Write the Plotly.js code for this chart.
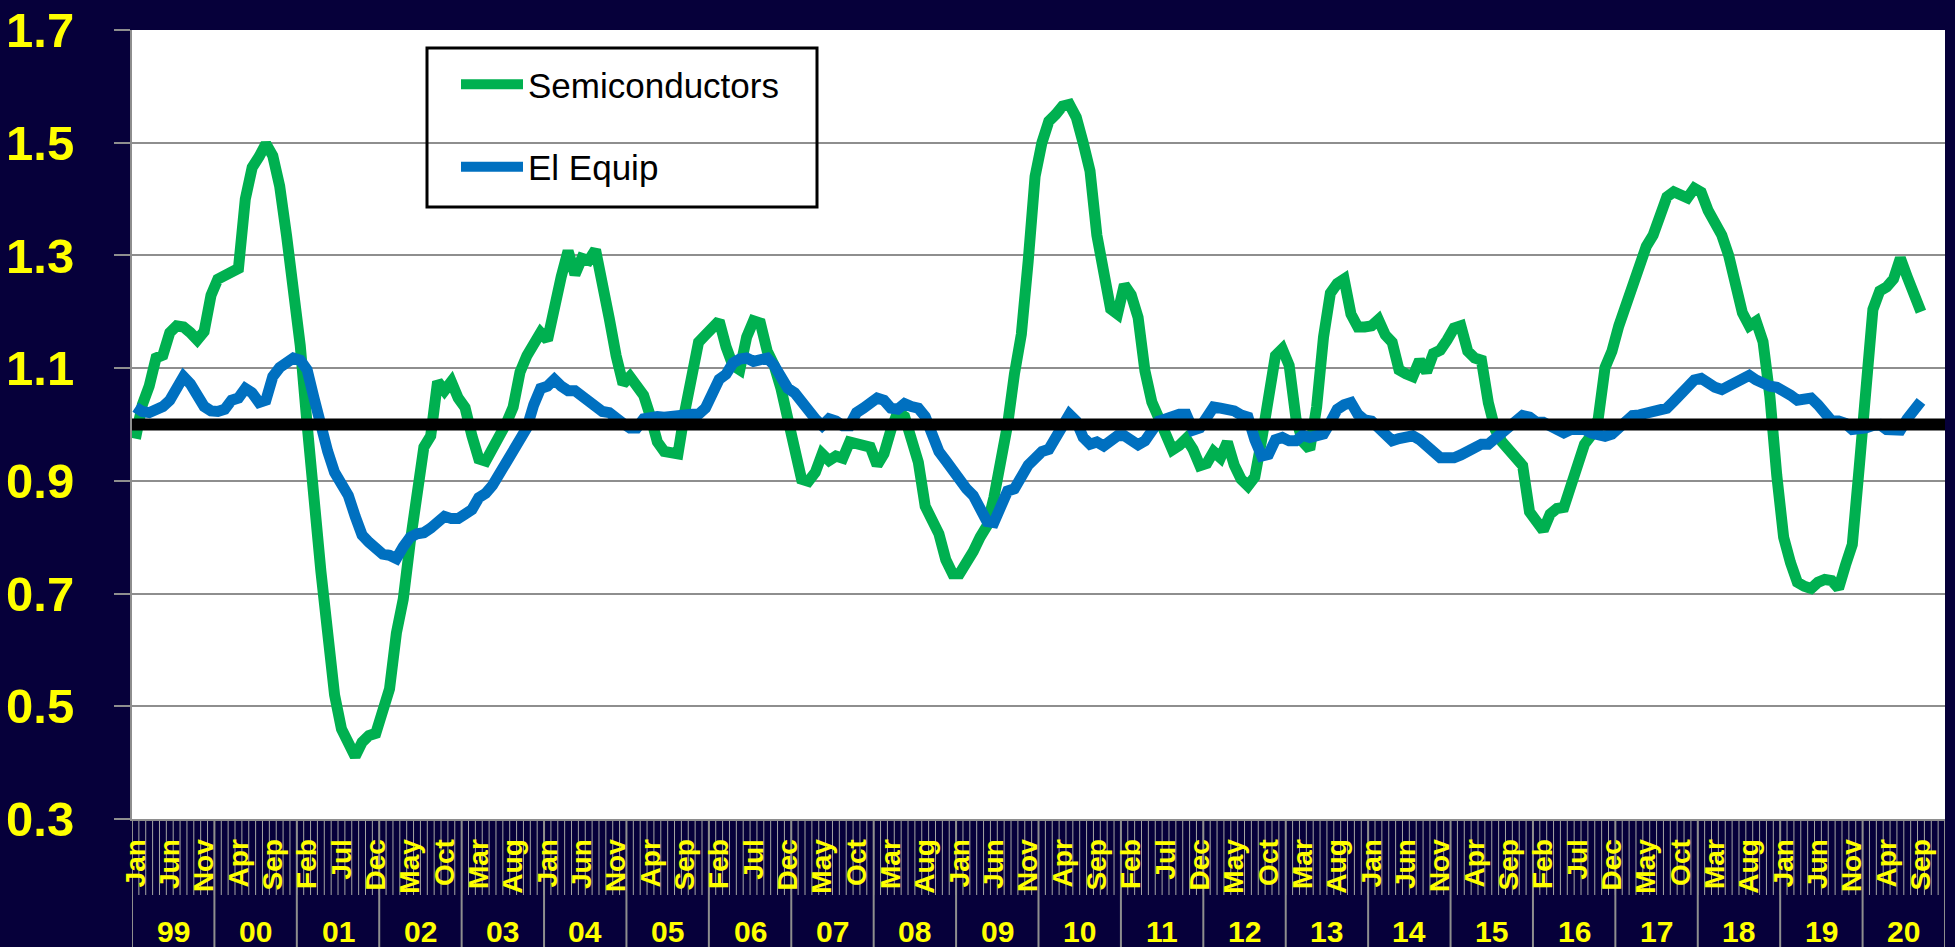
<!DOCTYPE html>
<html>
<head>
<meta charset="utf-8">
<script src="https://cdn.plot.ly/plotly-3.0.1.min.js"></script>
<style>
html,body{margin:0;padding:0;background:#06003A;}
#chart{width:1955px;height:947px;}
</style>
</head>
<body>
<div id="chart"></div>
<script>
// ---- data (monthly, Jan 1999 .. Sep 2020) ----
const monthNames = ['Jan','Feb','Mar','Apr','May','Jun','Jul','Aug','Sep','Oct','Nov','Dec'];
const yearLabels = ['99','00','01','02','03','04','05','06','07','08','09','10','11','12','13','14','15','16','17','18','19','20'];
const yTickValues = [0.3,0.5,0.7,0.9,1.1,1.3,1.5,1.7];
const baselineValue = 1.0;

const semiconductors = [
  // 1999-2002
  0.975,1.035,1.068,1.118,1.123,1.163,1.175,1.173,1.163,1.150,1.165,1.229,
  1.258,1.264,1.270,1.277,1.400,1.456,1.475,1.498,1.477,1.423,1.336,1.237,
  1.140,1.000,0.840,0.740,0.630,0.520,0.460,0.431,0.411,0.436,0.448,0.452,
  0.485,0.531,0.630,0.690,0.790,0.882,0.960,0.980,1.076,1.060,1.076,1.047,
  // 2003-2006
  1.030,0.980,0.939,0.935,0.955,0.980,1.002,1.031,1.093,1.122,1.146,1.163,
  1.150,1.213,1.262,1.308,1.266,1.295,1.291,1.310,1.237,1.188,1.122,1.072,
  1.085,1.068,1.052,1.014,0.969,0.952,0.948,0.948,1.023,1.089,1.146,1.159,
  1.171,1.184,1.138,1.105,1.097,1.155,1.184,1.180,1.130,1.105,1.064,1.014,
  // 2007-2010
  0.955,0.903,0.899,0.915,0.948,0.936,0.944,0.940,0.969,0.966,0.965,0.960,
  0.928,0.948,0.990,1.022,1.014,0.975,0.933,0.855,0.832,0.806,0.760,0.735,
  0.735,0.752,0.775,0.800,0.820,0.870,0.930,1.000,1.090,1.160,1.290,1.440,
  1.500,1.538,1.550,1.565,1.568,1.545,1.500,1.450,1.336,1.262,1.205,1.196,
  // 2011-2014
  1.248,1.230,1.190,1.095,1.040,1.012,0.978,0.955,0.963,0.975,0.956,0.927,
  0.931,0.952,0.941,0.969,0.928,0.903,0.891,0.907,0.973,1.047,1.122,1.134,
  1.105,1.010,0.969,0.956,1.031,1.155,1.233,1.250,1.258,1.196,1.173,1.173,
  1.175,1.186,1.159,1.146,1.097,1.090,1.085,1.114,1.093,1.126,1.132,1.150,
  // 2015-2018
  1.171,1.175,1.130,1.118,1.114,1.039,0.991,0.969,0.955,0.940,0.927,0.845,
  0.828,0.812,0.841,0.851,0.853,0.894,0.927,0.965,0.981,1.010,1.101,1.130,
  1.175,1.212,1.250,1.291,1.316,1.336,1.378,1.404,1.413,1.409,1.402,1.419,
  1.412,1.380,1.358,1.336,1.300,1.248,1.198,1.175,1.183,1.147,1.050,0.910,
  // 2019-2020 (to Sep)
  0.800,0.755,0.720,0.713,0.709,0.720,0.725,0.723,0.709,0.750,0.787,0.923,
  1.072,1.204,1.237,1.244,1.258,1.295,1.262,1.229,1.200
];

const elEquip = [
  // 1999-2002
  1.031,1.023,1.021,1.024,1.032,1.043,1.068,1.085,1.072,1.051,1.032,1.024,
  1.023,1.027,1.043,1.047,1.064,1.056,1.039,1.043,1.085,1.101,1.112,1.118,
  1.114,1.097,1.047,0.994,0.952,0.915,0.894,0.874,0.837,0.804,0.791,0.781,
  0.770,0.768,0.762,0.783,0.800,0.806,0.808,0.816,0.826,0.837,0.833,0.833,
  // 2003-2006
  0.841,0.849,0.870,0.878,0.892,0.911,0.932,0.952,0.969,0.994,1.035,1.064,
  1.068,1.080,1.068,1.060,1.060,1.052,1.039,1.035,1.023,1.021,1.014,1.002,
  0.994,0.994,1.010,1.014,1.014,1.013,1.013,1.014,1.017,1.018,1.018,1.029,
  1.060,1.080,1.089,1.109,1.116,1.118,1.112,1.114,1.118,1.105,1.085,1.064,
  // 2007-2010
  1.056,1.039,1.024,1.010,0.998,1.010,1.006,0.998,0.998,1.021,1.029,1.041,
  1.047,1.043,1.029,1.027,1.037,1.032,1.029,1.014,0.977,0.952,0.936,0.917,
  0.900,0.886,0.874,0.849,0.828,0.826,0.857,0.882,0.886,0.911,0.928,0.940,
  0.952,0.956,0.977,1.006,1.018,1.006,0.977,0.965,0.969,0.962,0.969,0.980,
  // 2011-2014
  0.980,0.973,0.964,0.971,0.990,1.006,1.010,1.016,1.018,1.018,0.990,0.994,
  1.014,1.031,1.029,1.027,1.024,1.017,1.013,0.973,0.944,0.947,0.973,0.977,
  0.971,0.971,0.981,0.977,0.979,0.983,1.004,1.027,1.035,1.039,1.018,1.008,
  1.006,0.994,0.977,0.971,0.975,0.979,0.980,0.973,0.960,0.948,0.941,0.941,
  // 2015-2018
  0.941,0.946,0.952,0.960,0.965,0.965,0.975,0.988,0.996,1.008,1.016,1.013,
  1.004,1.004,0.996,0.988,0.985,0.991,0.991,0.991,0.985,0.980,0.979,0.983,
  0.994,1.008,1.016,1.017,1.019,1.021,1.024,1.029,1.041,1.052,1.068,1.079,
  1.082,1.071,1.066,1.062,1.068,1.076,1.085,1.087,1.079,1.072,1.068,1.066,
  // 2019-2020 (to Sep)
  1.056,1.052,1.043,1.046,1.047,1.035,1.018,1.006,1.006,1.002,0.991,0.991,
  0.994,0.998,1.000,0.991,0.988,0.990,1.010,1.027,1.041
];

// ---- derived helpers ----
const nSlots = yearLabels.length * 12;
const xSemi = semiconductors.map((_, i) => i);
const xEl = elEquip.map((_, i) => i);
const monthTickVals = [], monthTickText = [];
for (let i = 0; i < nSlots; i += 5) { monthTickVals.push(i); monthTickText.push(monthNames[i % 12]); }

const BG = '#06003A';
const YELLOW = '#FFFF00';
const GRID = '#8e8e8e';
const FONT = 'Liberation Sans, Arial, sans-serif';

const plotTop = 30, plotBottom = 819, figH = 947;
const plotH = plotBottom - plotTop;
const plotL = 132, plotR = 1945, plotW = plotR - plotL;
const px2paperY = py => (plotBottom - py) / plotH;
const px2paperX = px => (px - plotL) / plotW;

const shapes = [];
// month separators in the category band
for (let i = 0; i <= nSlots; i++) {
  shapes.push({type:'line', xref:'x', yref:'paper', x0:i-0.5, x1:i-0.5,
    y0:0, y1:px2paperY(895), line:{color:'#a4a4a4', width:1}, layer:'below'});
}
// year separators in the category band
for (let k = 0; k <= yearLabels.length; k++) {
  shapes.push({type:'line', xref:'x', yref:'paper', x0:12*k-0.5, x1:12*k-0.5,
    y0:0, y1:px2paperY(figH), line:{color:GRID, width:2}, layer:'below'});
}
// baseline at 1.0
shapes.push({type:'line', xref:'paper', yref:'y', x0:0, x1:1, y0:baselineValue, y1:baselineValue,
  line:{color:'#000000', width:12}, layer:'above'});
// legend frame
shapes.push({type:'rect', xref:'paper', yref:'paper',
  x0:px2paperX(427), x1:px2paperX(817), y0:px2paperY(207), y1:px2paperY(48),
  line:{color:'#000000', width:3}, fillcolor:'rgba(0,0,0,0)', layer:'above'});

const annotations = yearLabels.map((lab, k) => ({
  text: lab, xref:'x', yref:'paper', x: 12*k + 5.5, y: px2paperY(931),
  xanchor:'center', yanchor:'middle', showarrow:false,
  font:{family:FONT, size:30, color:YELLOW, weight:'bold'}
}));

const traces = [
  {type:'scatter', mode:'lines', name:'Semiconductors', x:xSemi, y:semiconductors,
   line:{color:'#00B050', width:11}, legendgroup:'a'},
  {type:'scatter', mode:'lines', name:'El Equip', x:xEl, y:elEquip,
   line:{color:'#0070C0', width:11}, legendgroup:'b'}
];

const layout = {
  width:1955, height:947,
  paper_bgcolor:BG, plot_bgcolor:'#FFFFFF',
  margin:{l:plotL, r:1955-plotR, t:plotTop, b:figH-plotBottom, pad:0},
  showlegend:true,
  legend:{x:px2paperX(456), y:px2paperY(55), xanchor:'left', yanchor:'top',
    bgcolor:'rgba(0,0,0,0)', borderwidth:0, traceorder:'grouped', tracegroupgap:34,
    itemwidth:62,
    font:{family:FONT, size:35, color:'#000000'}},
  xaxis:{type:'linear', range:[-0.5, nSlots-0.5], tickmode:'array',
    tickvals:monthTickVals, ticktext:monthTickText, tickangle:-90,
    ticks:'', ticklabelstandoff:7, showgrid:false, zeroline:false,
    showline:true, linecolor:GRID, linewidth:2,
    tickfont:{family:FONT, size:28, color:YELLOW, weight:'bold'}},
  yaxis:{range:[0.3,1.7], tickmode:'array', tickvals:yTickValues,
    ticktext:yTickValues.map(v => v.toFixed(1)),
    showgrid:true, gridcolor:GRID, gridwidth:2, zeroline:false,
    showline:true, linecolor:GRID, linewidth:2,
    ticks:'outside', ticklen:16, tickwidth:2, tickcolor:GRID, ticklabelstandoff:30,
    tickfont:{family:FONT, size:49, color:YELLOW, weight:'bold'}},
  shapes:shapes,
  annotations:annotations
};

Plotly.newPlot('chart', traces, layout, {displayModeBar:false, staticPlot:true});
</script>
</body>
</html>
